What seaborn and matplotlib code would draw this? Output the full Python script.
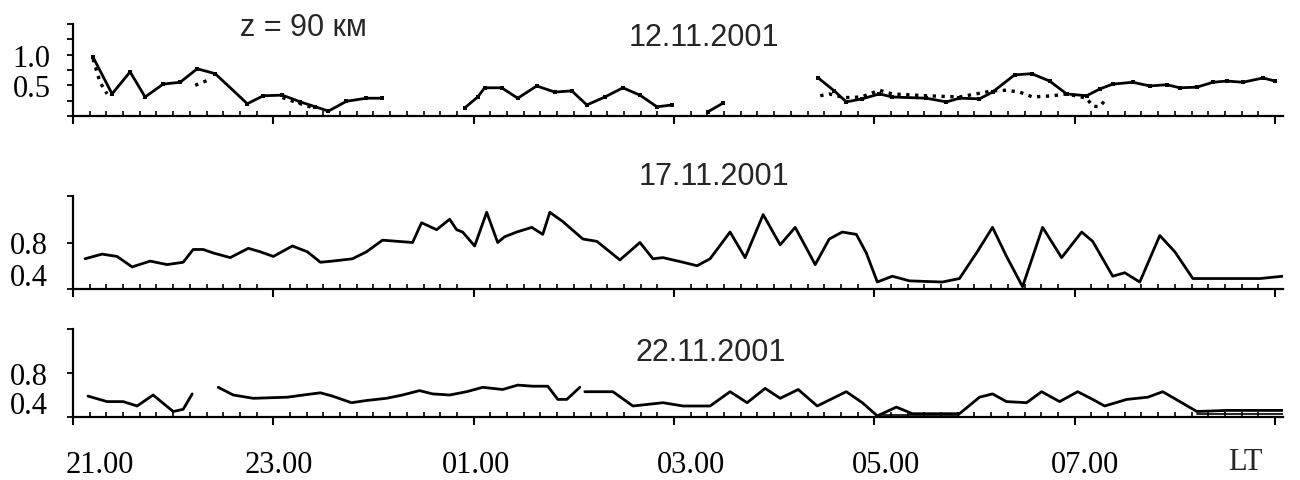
import numpy as np
import pandas as pd
import matplotlib
matplotlib.use("Agg")
import matplotlib.pyplot as plt
import matplotlib.transforms as mtransforms
import seaborn as sns

nan = np.nan

# hours after 21.00 LT; nan marks a gap in the record
p1_hours = [0.20, 0.39, 0.57, 0.72, 0.90, 1.07, 1.24, 1.42, 1.74, 1.90, 2.09, 2.27,
            2.42, 2.55, 2.73, 2.93, 3.08, nan,
            3.91, 4.04, 4.11, 4.28, 4.44, 4.63, 4.81, 4.98, 5.13, 5.31, 5.49, 5.66,
            5.83, 5.98, nan,
            6.34, 6.49, nan,
            7.44, 7.60, 7.72, 7.88, 8.05, 8.18, 8.52, 8.72, 8.85, 9.05, 9.18, 9.40,
            9.57, 9.75, 9.92, 10.12, 10.25, 10.38, 10.58, 10.75, 10.92, 11.05, 11.22,
            11.38, 11.52, 11.68, 11.88, 12.00]
p1_solid = [0.96, 0.36, 0.72, 0.31, 0.52, 0.55, 0.77, 0.69, 0.20, 0.33, 0.34, 0.23,
            0.15, 0.08, 0.24, 0.29, 0.29, nan,
            0.13, 0.31, 0.46, 0.46, 0.29, 0.49, 0.39, 0.41, 0.18, 0.31, 0.46, 0.34,
            0.15, 0.18, nan,
            0.07, 0.21, nan,
            0.62, 0.41, 0.23, 0.28, 0.36, 0.31, 0.29, 0.23, 0.29, 0.28, 0.39, 0.67,
            0.69, 0.57, 0.36, 0.33, 0.44, 0.52, 0.55, 0.49, 0.51, 0.46, 0.47,
            0.55, 0.57, 0.55, 0.62, 0.57]

p1_dot_hours = [0.20, 0.27, 0.34, nan, 1.22, 1.37, nan, 2.09, 2.27, 2.42, nan,
                7.46, 7.55, 7.70, 7.87, 8.05, 8.18, 8.52, 8.85, 9.18, 9.32, 9.45, 9.58,
                9.78, 9.92, 10.12, 10.18, 10.25, 10.32]
p1_dotted = [0.93, 0.55, 0.36, nan, 0.50, 0.60, nan, 0.30, 0.20, 0.12, nan,
             0.33, 0.36, 0.30, 0.31, 0.42, 0.36, 0.33, 0.31, 0.41, 0.42, 0.39, 0.31,
             0.33, 0.36, 0.29, 0.16, 0.15, 0.29]

p2_hours = [0.12, 0.29, 0.44, 0.59, 0.77, 0.94, 1.10, 1.20, 1.30, 1.40, 1.57, 1.75,
            1.87, 2.00, 2.19, 2.34, 2.47, 2.59, 2.79, 2.93, 3.09, 3.39, 3.48, 3.63,
            3.76, 3.83, 3.89, 4.01, 4.13, 4.24, 4.31, 4.43, 4.58, 4.69, 4.76, 4.89,
            5.09, 5.23, 5.46, 5.66, 5.79, 5.89, 6.09, 6.23, 6.36, 6.56, 6.71, 6.89,
            7.06, 7.21, 7.41, 7.55, 7.68, 7.82, 7.92, 8.03, 8.18, 8.35, 8.68, 8.85,
            9.02, 9.18, 9.32, 9.48, 9.68, 9.87, 10.07, 10.18, 10.38, 10.50, 10.65,
            10.85, 11.00, 11.18, 11.35, 11.68, 11.85, 12.08]
p2_vals = [0.66, 0.70, 0.68, 0.59, 0.64, 0.61, 0.63, 0.74, 0.74, 0.71, 0.67, 0.75,
           0.72, 0.68, 0.77, 0.72, 0.63, 0.64, 0.66, 0.72, 0.82, 0.80, 0.97, 0.91,
           1.00, 0.91, 0.89, 0.77, 1.06, 0.80, 0.85, 0.89, 0.93, 0.87, 1.06, 0.98,
           0.83, 0.81, 0.65, 0.80, 0.66, 0.67, 0.63, 0.60, 0.66, 0.89, 0.67, 1.04,
           0.78, 0.93, 0.61, 0.83, 0.89, 0.87, 0.71, 0.46, 0.51, 0.47, 0.46, 0.49,
           0.71, 0.93, 0.68, 0.42, 0.93, 0.67, 0.89, 0.81, 0.51, 0.54, 0.46,
           0.86, 0.72, 0.49, 0.49, 0.49, 0.49, 0.51]

p3_hours = [0.15, 0.34, 0.50, 0.64, 0.80, 1.00, 1.10, 1.19, nan,
            1.45, 1.60, 1.80, 2.14, 2.30, 2.47, 2.59, 2.78, 2.93, 3.13, 3.29, 3.46,
            3.59, 3.76, 3.93, 4.09, 4.29, 4.44, 4.59, 4.74, 4.84, 4.93, 5.06, nan,
            5.11, 5.39, 5.59, 5.89, 6.09, 6.36, 6.56, 6.73, 6.91, 7.06, 7.24, 7.43,
            7.72, 7.88, 8.03, 8.22, 8.38, 8.85, 9.05, 9.18, 9.32, 9.52, 9.67, 9.85,
            10.03, 10.18, 10.30, 10.52, 10.73, 10.88, 11.05, 11.22, 11.52, 12.08]
p3_vals = [0.59, 0.54, 0.54, 0.50, 0.60, 0.45, 0.47, 0.61, nan,
           0.67, 0.60, 0.57, 0.58, 0.60, 0.62, 0.59, 0.53, 0.55, 0.57, 0.60, 0.64,
           0.61, 0.60, 0.63, 0.67, 0.65, 0.69, 0.68, 0.68, 0.56, 0.56, 0.67, nan,
           0.63, 0.63, 0.50, 0.53, 0.50, 0.50, 0.63, 0.53, 0.66, 0.57, 0.65, 0.50,
           0.63, 0.53, 0.41, 0.49, 0.43, 0.43, 0.58, 0.61, 0.54, 0.53, 0.63, 0.54,
           0.63, 0.56, 0.50, 0.56, 0.58, 0.63, 0.54, 0.45, 0.46, 0.46]

p3_low_hours = [8.05, 8.85, nan, 11.22, 12.08]
p3_low_vals = [0.42, 0.42, nan, 0.43, 0.43]

hour_ticks = [0, 2, 4, 6, 8, 10, 12]
hour_labels = ["21.00", "23.00", "01.00", "03.00", "05.00", "07.00", ""]
dates = ["12.11.2001", "17.11.2001", "22.11.2001"]


def to_frame(h, v):
    df = pd.DataFrame({"h": h, "v": v})
    df["seg"] = df["v"].isna().cumsum()
    return df.dropna()


sns.set_style("ticks")
plt.rcParams["font.family"] = ["Liberation Serif", "DejaVu Serif"]

fig = plt.figure(figsize=(13, 4.81), dpi=100)
W, H = 1300, 481
left, width = 73 / W, (1283 - 73) / W
# (bottom px, top px) of each panel
boxes = [(117, 25), (290, 197), (418, 330)]
axes = [fig.add_axes([left, 1 - b / H, width, (b - t) / H]) for b, t in boxes]

line_kw = dict(x="h", y="v", units="seg", estimator=None, color="black",
               sort=False, legend=False)

# panel 1
ax = axes[0]
sns.lineplot(data=to_frame(p1_hours, p1_solid), ax=ax, lw=2.0, marker="s",
             markersize=3.5, markeredgewidth=0, **line_kw)
sns.lineplot(data=to_frame(p1_dot_hours, p1_dotted), ax=ax, lw=2.4, linestyle=":",
             **line_kw)
ax.set_ylim(0, 1.5)
ax.set_yticks([0.5, 1.0])
ax.set_yticklabels(["0.5", "1.0"])
ax.set_yticks([0, 0.25, 0.75, 1.25, 1.5], minor=True)

# panel 2
ax = axes[1]
sns.lineplot(data=to_frame(p2_hours, p2_vals), ax=ax, lw=2.0, **line_kw)

# panel 3
ax = axes[2]
sns.lineplot(data=to_frame(p3_hours, p3_vals), ax=ax, lw=2.0, **line_kw)
sns.lineplot(data=to_frame(p3_low_hours, p3_low_vals), ax=ax, lw=1.2, **line_kw)

for ax in axes[1:]:
    ax.set_ylim(0.4, 1.2)
    ax.set_yticks([0.4, 0.8, 1.2])
    ax.set_yticklabels(["0.4", "0.8", ""])

for i, ax in enumerate(axes):
    ax.set_xlim(0, 12.08)
    ax.set_xticks(hour_ticks)
    ax.set_xticks(np.arange(0, 12.01, 1 / 6), minor=True)
    ax.set_xlabel("")
    ax.set_ylabel("")
    sns.despine(ax=ax)
    for s in ("left", "bottom"):
        ax.spines[s].set_linewidth(1.6)
        ax.spines[s].set_color("black")
    ax.tick_params(axis="x", which="major", direction="out", length=6, width=1.5,
                   colors="black", labelsize=22, pad=18)
    ax.tick_params(axis="x", which="minor", direction="in", length=3.5, width=1.2,
                   colors="black")
    ax.tick_params(axis="y", which="both", direction="out", length=4, width=1.3,
                   colors="black", labelsize=22, pad=14 if i else 12)
    if i < 2:
        ax.set_xticklabels([""] * len(hour_ticks))
    else:
        ax.set_xticklabels(hour_labels)
    ax.set_facecolor("white")

# nudge labels like the original drawing
shift_x = [27, 5, 2, 17, 12, 10, 0]
for lab, dx in zip(axes[2].get_xticklabels(), shift_x):
    lab.set_transform(lab.get_transform() +
                      mtransforms.ScaledTranslation(dx / 100, 0, fig.dpi_scale_trans))
for ax in axes[1:]:
    lab = ax.get_yticklabels()[0]
    lab.set_transform(lab.get_transform() +
                      mtransforms.ScaledTranslation(0, 15 / 100, fig.dpi_scale_trans))

sans = ["Liberation Sans", "DejaVu Sans"]
fig.text(303 / W, 1 - 28 / H, "z = 90 км", family=sans, fontsize=22,
         ha="center", va="center")
for (cx, cy), d in zip([(704, 38), (714, 177), (711, 353)], dates):
    fig.text(cx / W, 1 - cy / H, d, family=sans, fontsize=22, ha="center", va="center")
fig.text(1245 / W, 1 - 462 / H, "LT", fontsize=22, ha="center", va="center")

fig.savefig("out.png", dpi=100, facecolor="white")
